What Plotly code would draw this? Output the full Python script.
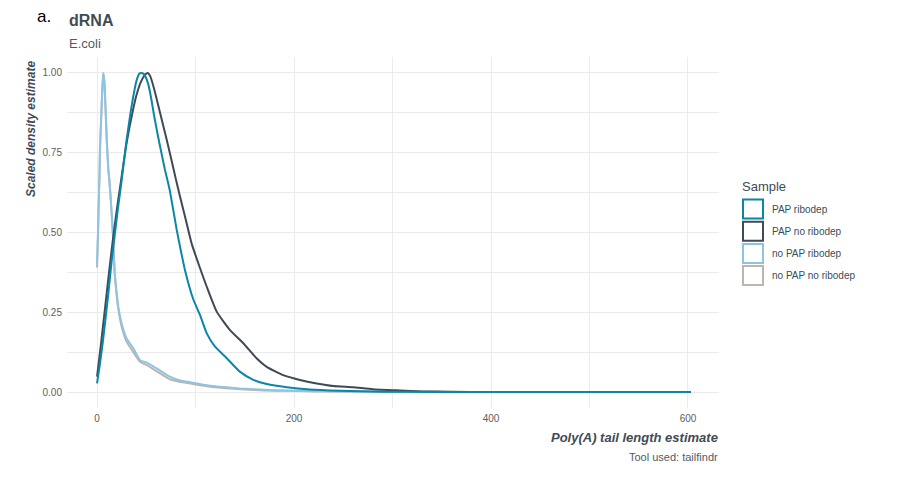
import plotly.graph_objects as go

# ---- data ----
samples = ["PAP ribodep", "PAP no ribodep", "no PAP ribodep", "no PAP no ribodep"]
colors = ["#0a86a8", "#3f4a56", "#8ec4e3", "#bcb4ad"]

pap_ribodep_x = [0, 3, 6, 9, 11.5, 13, 15, 18.3, 21, 24, 26, 30, 34, 37, 40, 43, 45, 47, 49, 52, 55, 58,
                 62, 66, 69, 71.4, 74.1, 80.9, 84.3, 89.3, 97.8, 104.6, 111.4, 119.8, 131.7, 145, 158.7,
                 172.3, 192.6, 216, 246.7, 290, 350, 400, 500, 603]
pap_ribodep_y = [0.027, 0.09, 0.16, 0.24, 0.31, 0.355, 0.415, 0.50, 0.57, 0.64, 0.69, 0.79, 0.875, 0.93,
                 0.975, 0.998, 1.0, 0.998, 0.99, 0.965, 0.92, 0.865, 0.80, 0.74, 0.696, 0.665, 0.628,
                 0.508, 0.455, 0.382, 0.29, 0.241, 0.184, 0.142, 0.106, 0.064, 0.038, 0.025, 0.015,
                 0.008, 0.004, 0.001, 0.0003, 0.0, 0.0, 0.0]

pap_noribo_x = [0, 4, 8, 12, 16.6, 20, 24, 30, 35.9, 40, 45, 49, 51.5, 54, 58, 64, 70,
                74.1, 80.2, 84.3, 91, 96, 104.6, 111.4, 121.5, 135, 148.5, 162, 172.3, 189, 206, 223,
                240, 260, 280, 307.6, 330, 360, 400, 500, 603]
pap_noribo_y = [0.048, 0.15, 0.26, 0.37, 0.49, 0.57, 0.655, 0.78, 0.875, 0.93, 0.975, 0.995,
                1.0, 0.99, 0.95, 0.875, 0.80, 0.747, 0.665, 0.612, 0.529, 0.466, 0.388, 0.33, 0.252,
                0.194, 0.153, 0.106, 0.079, 0.053, 0.038, 0.027, 0.019, 0.015, 0.009, 0.005, 0.002,
                0.001, 0.0, 0.0, 0.0]

nopap_ribo_x = [0, 1, 2, 2.4, 3, 4.4, 5.5, 6.4, 7.5, 8.8, 10, 11.5, 12.5, 14, 16, 18, 20, 21.6, 25, 30,
                36.9, 43.7, 52, 60.6, 74, 82.5, 90, 100, 110, 120, 135, 150, 170, 190, 220, 260, 300,
                350, 400, 500, 603]
nopap_ribo_y = [0.40, 0.50, 0.63, 0.665, 0.76, 0.875, 0.96, 1.0, 0.97, 0.875, 0.78, 0.696, 0.665, 0.60,
                0.50, 0.37, 0.31, 0.267, 0.215, 0.168, 0.137, 0.10, 0.09, 0.074, 0.048, 0.038, 0.033,
                0.028, 0.022, 0.018, 0.014, 0.010, 0.007, 0.005, 0.003, 0.0015, 0.0008, 0.0003, 0.0,
                0.0, 0.0]

nopap_noribo_x = [0, 1, 2, 2.4, 3, 4.4, 5.5, 6.4, 7.5, 8.8, 10, 11.5, 12.5, 14, 16, 18, 20, 21.6, 25,
                  30, 36.9, 43.7, 52, 60.6, 74, 82.5, 90, 100, 110, 120, 135, 150, 170, 190, 220, 260,
                  300, 350, 400, 500, 603]
nopap_noribo_y = [0.39, 0.50, 0.63, 0.665, 0.76, 0.875, 0.96, 1.0, 0.97, 0.875, 0.78, 0.696, 0.665,
                  0.60, 0.50, 0.37, 0.30, 0.26, 0.205, 0.158, 0.125, 0.095, 0.082, 0.065, 0.040, 0.033,
                  0.029, 0.024, 0.019, 0.015, 0.011, 0.008, 0.005, 0.004, 0.002, 0.001, 0.0005,
                  0.0002, 0.0, 0.0, 0.0]

x_ticks = [0, 200, 400, 600]
y_ticks = [0.0, 0.25, 0.50, 0.75, 1.0]
y_ticklabels = ["0.00", "0.25", "0.50", "0.75", "1.00"]

series = {
    "PAP ribodep": (pap_ribodep_x, pap_ribodep_y),
    "PAP no ribodep": (pap_noribo_x, pap_noribo_y),
    "no PAP ribodep": (nopap_ribo_x, nopap_ribo_y),
    "no PAP no ribodep": (nopap_noribo_x, nopap_noribo_y),
}

FONT = "Liberation Sans, Arial, sans-serif"
W, H = 900, 481
L, R, T, B = 67, 719, 57, 408   # panel edges in pixels


def px(x):
    return (x - L) / (R - L)


def py(y):
    return (B - y) / (B - T)


fig = go.Figure()
# draw order: last sample first so that PAP ribodep ends on top
for name, col in reversed(list(zip(samples, colors))):
    xs, ys = series[name]
    fig.add_trace(go.Scatter(x=xs, y=ys, mode="lines", name=name,
                             line=dict(color=col, width=2, shape="spline", smoothing=0.5),
                             showlegend=False, hoverinfo="skip"))

grid = "#ebebeb"
fig.update_layout(
    width=W, height=H,
    margin=dict(l=L, r=W - R, t=T, b=H - B),
    paper_bgcolor="white", plot_bgcolor="white",
    font=dict(family=FONT, color="#4d4d4d"),
    showlegend=False,
    xaxis=dict(range=[-30.5, 631.5], tickvals=x_ticks, ticktext=[str(v) for v in x_ticks],
               showgrid=True, gridcolor=grid, gridwidth=1, zeroline=False, showline=False,
               ticks="", tickfont=dict(size=10, color="#5e5e5e"), ticklabelstandoff=3,
               minor=dict(showgrid=True, gridcolor=grid, gridwidth=0.6, tick0=0, dtick=100)),
    yaxis=dict(range=[-0.05, 1.05], tickvals=y_ticks, ticktext=y_ticklabels,
               showgrid=True, gridcolor=grid, gridwidth=1, zeroline=False, showline=False,
               ticks="", tickfont=dict(size=10, color="#5e5e5e"), ticklabelstandoff=4,
               minor=dict(showgrid=True, gridcolor=grid, gridwidth=0.6, tick0=0, dtick=0.125)),
)

ann = []
ann.append(dict(text="a.", x=px(35), y=py(16), xanchor="left", yanchor="middle",
                font=dict(size=17, color="#000000", family=FONT)))
ann.append(dict(text="<b>dRNA</b>", x=px(67), y=py(20), xanchor="left", yanchor="middle",
                font=dict(size=16, color="#404b56", family=FONT)))
ann.append(dict(text="E.coli", x=px(67), y=py(43), xanchor="left", yanchor="middle",
                font=dict(size=13, color="#4f5a65", family=FONT)))
ann.append(dict(text="<b><i>Scaled density estimate</i></b>", x=px(31), y=py(129),
                xanchor="center", yanchor="middle", textangle=-90,
                font=dict(size=12, color="#404b56", family=FONT)))
ann.append(dict(text="<b><i>Poly(A) tail length estimate</i></b>", x=px(720), y=py(437),
                xanchor="right", yanchor="middle",
                font=dict(size=13, color="#404b56", family=FONT)))
ann.append(dict(text="Tool used: tailfindr", x=px(720), y=py(457), xanchor="right",
                yanchor="middle", font=dict(size=11, color="#505b66", family=FONT)))
ann.append(dict(text="Sample", x=px(740), y=py(186), xanchor="left", yanchor="middle",
                font=dict(size=13, color="#404b56", family=FONT)))

shapes = []
for i, (name, col) in enumerate(zip(samples, colors)):
    cy = 209 + 22.2 * i
    shapes.append(dict(type="rect", xref="paper", yref="paper",
                       x0=px(743), x1=px(763), y0=py(cy - 9.5), y1=py(cy + 9.5),
                       line=dict(color=col, width=2), fillcolor="white"))
    ann.append(dict(text=name, x=px(770), y=py(cy), xanchor="left", yanchor="middle",
                    font=dict(size=10, color="#404b56", family=FONT)))

for a in ann:
    a.update(xref="paper", yref="paper", showarrow=False)
fig.update_layout(annotations=ann, shapes=shapes)

fig.write_html("out.html")
